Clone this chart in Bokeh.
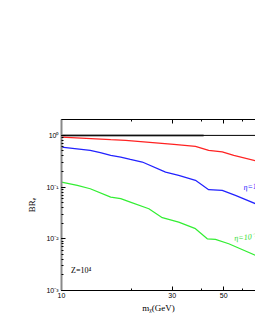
from bokeh.plotting import figure
from bokeh.models import (LogAxis, FixedTicker, LogTicker, CustomJSTickFormatter, Label, Range1d)
from bokeh.embed import file_html
from bokeh.resources import INLINE

# Data
mass_red = [10.0, 16.3, 18.9, 30.5, 37.8, 43.1, 49.3, 55.3, 68.6]
br_red = [0.927, 0.826, 0.80, 0.67, 0.613, 0.513, 0.48, 0.41, 0.324]

mass_blue = [10.0, 13.3, 14.7, 16.3, 18.0, 19.8, 22.3, 28.1, 32.0, 37.8, 43.1, 49.3, 56.2, 68.6]
br_blue = [0.594, 0.513, 0.463, 0.410, 0.380, 0.343, 0.305, 0.195, 0.168, 0.135, 0.0891, 0.0863, 0.0691, 0.0477]

mass_green = [10.0, 11.7, 13.3, 16.3, 18.0, 19.8, 23.8, 27.2, 32.0, 37.8, 42.5, 46.1, 52.6, 68.6]
br_green = [0.125, 0.108, 0.093, 0.0641, 0.0597, 0.0513, 0.0382, 0.0256, 0.0210, 0.0157, 0.0100, 0.00973, 0.00803, 0.00477]

mass_unity = [10.0, 70.0]
br_unity = [1.0, 1.0]
mass_gray = [10.0, 41.0]
br_gray = [1.0, 1.0]

x_major = [10, 30, 50, 70]
x_minor = [20, 40, 60]

SERIF = "Liberation Serif"
SANS = "Liberation Sans"

p = figure(width=255, height=330, x_axis_type="log", y_axis_type="log",
           x_range=Range1d(10, 68.6), y_range=Range1d(1e-3, 2.03),
           output_backend="svg", toolbar_location=None,
           min_border_left=61, min_border_right=0, min_border_top=119, min_border_bottom=40)
p.outline_line_color = None
p.grid.visible = False
p.background_fill_color = "white"
p.border_fill_color = "white"

p.line(mass_gray, br_gray, line_color="#999999", line_width=2.5)
p.line(mass_unity, br_unity, line_color="black", line_width=1)
p.line(mass_red, br_red, line_color="#ff2222", line_width=1.2)
p.line(mass_blue, br_blue, line_color="#2222ff", line_width=1.2)
p.line(mass_green, br_green, line_color="#33ee33", line_width=1.2)

sup_fmt = CustomJSTickFormatter(code="""
const sup = {'-':'\u207b','0':'\u2070','1':'\u00b9','2':'\u00b2','3':'\u00b3','4':'\u2074'};
const e = Math.round(Math.log10(tick));
return '10' + String(e).split('').map(c => sup[c]).join('');
""")

# x axis (bottom)
xa = p.xaxis[0]
xa.ticker = FixedTicker(ticks=x_major, minor_ticks=x_minor)
xa.axis_label = "m\u1d6a(GeV)"
xa.axis_label_text_font = SERIF
xa.axis_label_text_font_style = "normal"
xa.axis_label_text_font_size = "9px"
xa.axis_label_text_color = "black"
xa.axis_label_standoff = 2
xa.major_label_text_font = SANS
xa.major_label_text_font_size = "7px"
xa.major_label_text_color = "black"
xa.major_label_standoff = 2
xa.major_tick_in = 4
xa.major_tick_out = 0
xa.minor_tick_in = 2
xa.minor_tick_out = 0
xa.axis_line_color = "black"

# top axis (ticks only)
ta = LogAxis(ticker=FixedTicker(ticks=x_major, minor_ticks=x_minor),
             formatter=CustomJSTickFormatter(code="return ''"),
             major_tick_in=4, major_tick_out=0,
             minor_tick_in=2, minor_tick_out=0, axis_line_color="black")
p.add_layout(ta, "above")

# y axis (left)
ya = p.yaxis[0]
ya.ticker = LogTicker(num_minor_ticks=10)
ya.formatter = sup_fmt
ya.axis_label = "BR\u2091"
ya.axis_label_text_font = SERIF
ya.axis_label_text_font_style = "normal"
ya.axis_label_text_font_size = "9px"
ya.axis_label_text_color = "black"
ya.axis_label_standoff = 6
ya.major_label_text_font = SANS
ya.major_label_text_font_size = "7px"
ya.major_label_text_color = "black"
ya.major_label_standoff = 3
ya.major_tick_in = 4
ya.major_tick_out = 0
ya.minor_tick_in = 2
ya.minor_tick_out = 0
ya.axis_line_color = "#888888"
ya.axis_line_width = 2
ya.major_tick_line_color = "black"
ya.minor_tick_line_color = "black"

p.add_layout(Label(x=11.0, y=0.00245, text="Z=10\u2074", text_font=SERIF,
                   text_font_size="8px", text_baseline="middle", text_color="black"))
p.add_layout(Label(x=60.9, y=0.0986, text="\u03b7=1", text_font=SERIF,
                   text_font_style="italic", text_font_size="8px",
                   text_baseline="middle", text_color="#2222ff", angle=0.1))
p.add_layout(Label(x=55.6, y=0.0102, text="\u03b7=10\u207b\u00b9", text_font=SERIF,
                   text_font_style="italic", text_font_size="8px",
                   text_baseline="middle", text_color="#33dd33", angle=0.1))

open("out.html", "w").write(file_html(p, INLINE))
